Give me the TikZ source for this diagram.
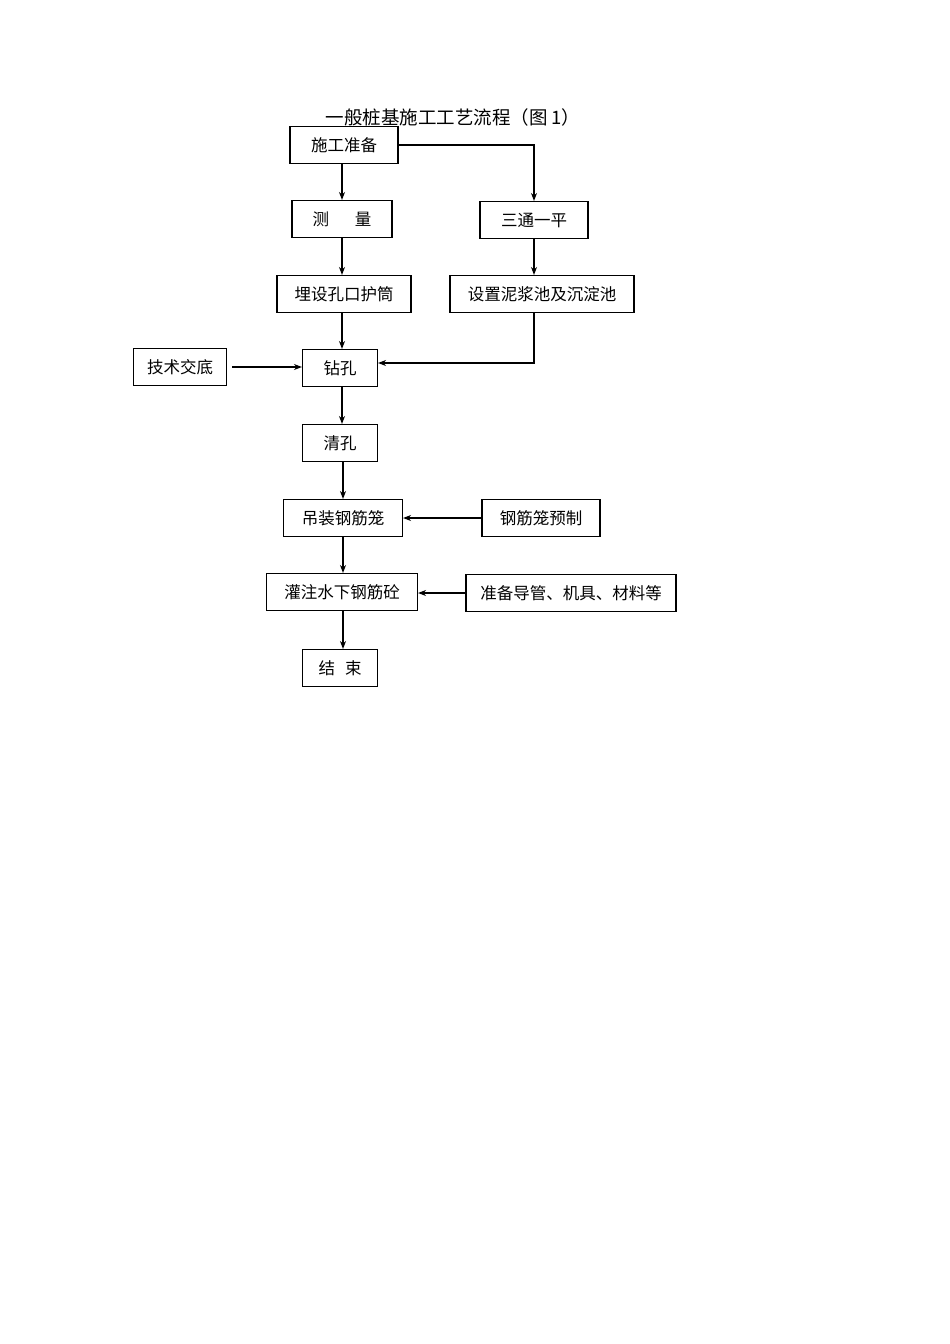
\documentclass[tikz,border=0pt]{standalone}
\usepackage{fontspec}
\setmainfont{Noto Sans CJK SC}
\usetikzlibrary{arrows.meta}

\tikzset{
  stepbox/.style={draw, line width=1.1pt, minimum height=37pt, inner sep=0pt,
                  font=\fontsize{16.5}{19}\selectfont},
  flow/.style={line width=1.3pt, -{Stealth[length=8pt,width=6pt]}}
}

\begin{document}
\begin{tikzpicture}[x=1pt, y=-1pt]
                \useasboundingbox[fill=white] (0,0) rectangle (950,1344);
                % Title
                \node[font=\fontsize{18.5}{21}\selectfont] (title) at (453,117) {一般桩基施工工艺流程（图 1）};

                % Main column
                \node[stepbox, minimum width=108pt] (prep)   at (344,145) {施工准备};
                \node[stepbox, minimum width=100pt] (survey) at (342,219) {测\hspace{26pt}量};
                \node[stepbox, minimum width=134pt] (casing) at (344,294) {埋设孔口护筒};
                \node[stepbox, minimum width=75pt]  (drill)  at (340,368) {钻孔};
                \node[stepbox, minimum width=75pt]  (clean)  at (340,443) {清孔};
                \node[stepbox, minimum width=119pt] (cage)   at (343,518) {吊装钢筋笼};
                \node[stepbox, minimum width=151pt] (pour)   at (342,592) {灌注水下钢筋砼};
                \node[stepbox, minimum width=75pt]  (finish) at (340,668) {结\hspace{10pt}束};

                % Side boxes
                \node[stepbox, minimum width=108pt] (road)     at (534,220) {三通一平};
                \node[stepbox, minimum width=184pt] (pond)     at (542,294) {设置泥浆池及沉淀池};
                \node[stepbox, minimum width=93pt]  (brief)    at (180,367) {技术交底};
                \node[stepbox, minimum width=118pt] (cagemake) at (541,518) {钢筋笼预制};
                \node[stepbox, minimum width=210pt] (tools)    at (571,593) {准备导管、机具、材料等};

                % Main flow
                \draw[flow] (prep.south -| survey.north) -- (survey.north);
                \draw[flow] (survey.south) -- (survey.south |- casing.north);
                \draw[flow] (casing.south -| survey.south) -- (survey.south |- drill.north);
                \draw[flow] (drill.south -| 342,0) -- (342,0 |- clean.north);
                \draw[flow] (clean.south -| 343,0) -- (cage.north);
                \draw[flow] (cage.south) -- (cage.south |- pour.north);
                \draw[flow] (pour.south -| 343,0) -- (343,0 |- finish.north);

                % Right branch
                \draw[flow] (prep.east) -| (road.north);
                \draw[flow] (road.south) -- (road.south |- pond.north);
                \draw[flow] (road.south |- pond.south) |- ([yshift=5pt]drill.east);

                % Inputs from the sides
                \draw[flow] ([xshift=5pt]brief.east) -- (brief.east -| drill.west);
                \draw[flow] (cagemake.west) -- (cage.east);
                \draw[flow] (tools.west) -- (tools.west -| pour.east);
\end{tikzpicture}
\end{document}
